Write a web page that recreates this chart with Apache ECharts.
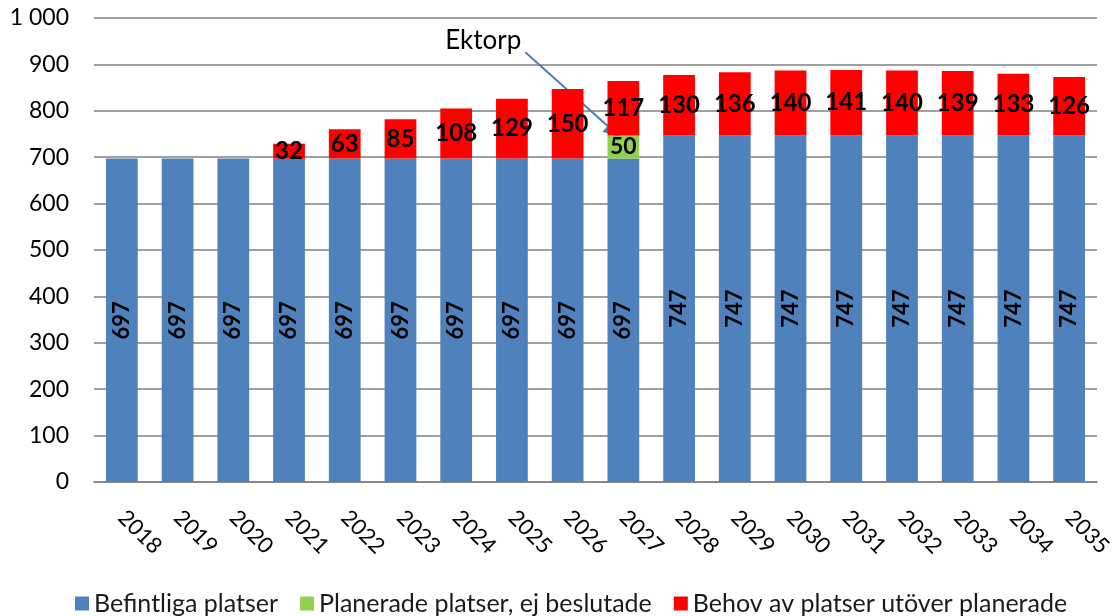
<!DOCTYPE html>
<html>
<head>
<meta charset="utf-8">
<script src="https://cdn.jsdelivr.net/npm/echarts@6/dist/echarts.min.js"></script>
<style>
  html, body { margin: 0; padding: 0; background: #fff; }
  #chart { width: 1116px; height: 616px; }
</style>
</head>
<body>
<div id="chart"></div>
<script>
const years = ["2018", "2019", "2020", "2021", "2022", "2023", "2024", "2025", "2026",
  "2027", "2028", "2029", "2030", "2031", "2032", "2033", "2034", "2035"];
const befintliga = [697, 697, 697, 697, 697, 697, 697, 697, 697, 697,
  747, 747, 747, 747, 747, 747, 747, 747];
const planerade = [0, 0, 0, 0, 0, 0, 0, 0, 0, 50, 0, 0, 0, 0, 0, 0, 0, 0];
const behov = [0, 0, 0, 32, 63, 85, 108, 129, 150, 117, 130, 136, 140, 141, 140, 139, 133, 126];
const yTicks = [0, 100, 200, 300, 400, 500, 600, 700, 800, 900, 1000];

const font = "Lato";
const myChart = echarts.init(document.getElementById("chart"));

// etiketter visas bara när värdet inte är 0
function hideZero(p) {
  return p.value === 0 ? "" : p.value;
}

const option = {
  animation: false,
  textStyle: { fontFamily: font },
  grid: { left: 94, right: 19, top: 18, bottom: 134 },
  legend: {
    top: 586,
    left: 70,
    itemWidth: 14,
    itemHeight: 14,
    itemGap: 22,
    icon: "rect",
    textStyle: { fontSize: 25, color: "#1a1a1a", fontFamily: font },
  },
  xAxis: {
    type: "category",
    data: years,
    axisTick: { show: false },
    axisLine: { lineStyle: { color: "#808080", width: 1.5 } },
    axisLabel: {
      rotate: -45,
      margin: 32,
      interval: 0,
      fontSize: 22,
      color: "#000",
    },
  },
  yAxis: {
    type: "value",
    min: yTicks[0],
    max: yTicks[yTicks.length - 1],
    interval: 100,
    axisLine: { show: false },
    axisTick: { show: false },
    splitLine: { lineStyle: { color: "#808080", width: 1.5 } },
    axisLabel: {
      margin: 25,
      fontSize: 23,
      color: "#000",
      formatter: (v) => (v >= 1000 ? "1 000" : String(v)),
    },
  },
  series: [
    {
      name: "Befintliga platser",
      type: "bar",
      stack: "tot",
      barWidth: "57%",
      data: befintliga,
      itemStyle: { color: "#4F81BD" },
      label: {
        show: true,
        position: "inside",
        rotate: 90,
        fontSize: 22,
        fontWeight: "bold",
        color: "#000",
        formatter: hideZero,
      },
    },
    {
      name: "Planerade platser, ej beslutade",
      type: "bar",
      stack: "tot",
      data: planerade,
      itemStyle: { color: "#92D050" },
      label: {
        show: true,
        position: "inside",
        fontSize: 23,
        fontWeight: "bold",
        color: "#000",
        formatter: hideZero,
      },
    },
    {
      name: "Behov av platser utöver planerade",
      type: "bar",
      stack: "tot",
      data: behov,
      itemStyle: { color: "#FF0000" },
      label: {
        show: true,
        position: "inside",
        fontSize: 24,
        fontWeight: "bold",
        color: "#000",
        formatter: hideZero,
      },
    },
  ],
};

myChart.setOption(option);

// pil till Ektorp (planerade platser 2027)
const end = myChart.convertToPixel({ gridIndex: 0 }, ["2027", 743]);
end[0] -= 3;
const start = [end[0] - 95, end[1] - 85];
const ang = Math.atan2(end[1] - start[1], end[0] - start[0]);
const head = 17, half = 8;
const bx = end[0] - head * Math.cos(ang), by = end[1] - head * Math.sin(ang);
myChart.setOption({
  graphic: [
    {
      type: "line",
      shape: { x1: start[0], y1: start[1], x2: bx, y2: by },
      style: { stroke: "#4A7EBB", lineWidth: 2 },
    },
    {
      type: "polygon",
      shape: {
        points: [
          end,
          [bx + half * Math.sin(ang), by - half * Math.cos(ang)],
          [bx - half * Math.sin(ang), by + half * Math.cos(ang)],
        ],
      },
      style: { fill: "#4A7EBB" },
    },
    {
      type: "text",
      x: start[0] - 4,
      y: start[1] + 1,
      style: {
        text: "Ektorp",
        fontSize: 26,
        fontFamily: font,
        fill: "#000",
        textAlign: "right",
        textVerticalAlign: "bottom",
      },
    },
  ],
});
</script>
</body>
</html>
